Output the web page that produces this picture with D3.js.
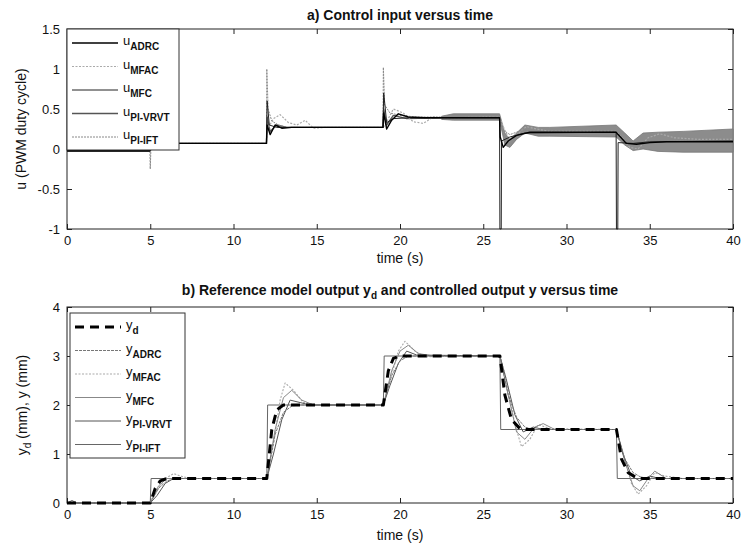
<!DOCTYPE html>
<html><head><meta charset="utf-8">
<script src="https://cdn.jsdelivr.net/npm/d3@7"></script>
<style>
body{margin:0;background:#fff}
svg{display:block;font-family:"Liberation Sans Narrow","Liberation Sans",Arial,sans-serif}
</style></head><body><div id="chart"></div>
<script>
// --- données (temps en s) ---
const timeTicks = [0, 5, 10, 15, 20, 25, 30, 35, 40]
const uTicks = [-1, -0.5, 0, 0.5, 1, 1.5]
const yTicks = [0, 1, 2, 3, 4]

// a) commandes u
const uADRC = [[0,-0.02],[4.98,-0.02],[5.02,0.07],[11.98,0.07],[12.02,0.3],[12.2,0.18],[12.5,0.3],[12.9,0.26],[13.5,0.27],[18.98,0.27],[19.02,0.45],[19.2,0.25],[19.5,0.36],[19.9,0.44],[20.5,0.4],[21.5,0.39],[25.98,0.39],[26.02,0.15],[26.2,0.02],[26.5,0.1],[27,0.17],[27.8,0.21],[32.98,0.21],[33.1,0.18],[33.6,0.07],[34.2,0.06],[35,0.08],[36,0.09],[40,0.09]]
const uMFAC = [[0,0],[4.98,0],[5.02,0.07],[11.98,0.07],[12.05,0.25],[12.4,0.38],[12.8,0.43],[13.3,0.33],[13.8,0.3],[14.3,0.36],[14.8,0.26],[15.5,0.27],[18.98,0.27],[19.1,0.3],[19.6,0.5],[20.2,0.45],[20.8,0.34],[21.4,0.32],[22,0.4],[22.5,0.39],[25.98,0.4],[26.2,0.28],[26.6,0.1],[27,0.18],[27.6,0.28],[28.2,0.25],[29,0.22],[32.98,0.22],[33.3,0.15],[33.8,0.02],[34.3,0],[34.9,0.14],[35.6,0.19],[36.5,0.14],[38,0.12],[40,0.12]]
const uMFC = [[0,-0.03],[4.98,-0.03],[5.02,0.07],[11.98,0.07],[12.02,0.6],[12.15,0.3],[12.6,0.27],[18.98,0.27],[19.02,0.7],[19.2,0.33],[19.6,0.38],[20.5,0.39],[25.98,0.39],[26,-1],[26.08,-1],[26.1,0.1],[26.6,0.15],[27.5,0.2],[32.98,0.21],[33,-1],[33.08,-1],[33.1,0.08],[34,0.07],[35,0.09],[40,0.1]]
const uPIVRVT = [[0,-0.02],[4.98,-0.02],[5.02,0.07],[11.98,0.07],[12.02,0.4],[12.2,0.22],[12.6,0.3],[13.2,0.27],[18.98,0.27],[19.02,0.5],[19.2,0.3],[19.6,0.42],[20.4,0.38],[22.5,0.39]]
const uPIVRVTband = [[22.5,0.37,0.41],[23.2,0.36,0.44],[25.98,0.36,0.44],[26.3,0.05,0.2],[26.6,0.02,0.12],[27,0.12,0.2],[27.5,0.2,0.3],[28.3,0.16,0.27],[29,0.16,0.27],[32.98,0.15,0.3],[33.5,0.05,0.2],[34,-0.02,0.1],[34.6,0,0.2],[35.5,-0.03,0.21],[37,-0.04,0.22],[40,-0.04,0.25]]
const uPIIFT = [[0,-0.01],[4.98,-0.01],[5,-0.25],[5.05,0.07],[11.98,0.07],[12,1],[12.08,0.5],[12.3,0.35],[12.7,0.3],[13.2,0.27],[18.98,0.27],[19,1.02],[19.08,0.55],[19.4,0.45],[20,0.42],[21,0.4],[25.98,0.4],[26.1,0.25],[26.6,0.18],[27.4,0.24],[28,0.22],[33,0.21],[33.3,0.1],[34,0.05],[35,0.1],[40,0.11]]

// b) sorties y
const yD = [[0,0],[5,0],[5.3,0.3],[5.6,0.45],[6,0.5],[12,0.5],[12.3,1.5],[12.6,1.9],[13,2],[19,2],[19.3,2.7],[19.6,2.95],[20,3],[26,3],[26.3,2.2],[26.7,1.7],[27.2,1.52],[27.6,1.5],[33,1.5],[33.3,0.9],[33.7,0.62],[34.2,0.52],[34.6,0.5],[40,0.5]]
const yADRC = [[0,0],[5,0],[5.5,0.3],[6,0.45],[6.5,0.5],[12,0.5],[12.5,1.4],[13,1.85],[13.5,1.98],[14,2],[19,2],[19.5,2.6],[20,2.9],[20.5,3],[26,3],[26.5,2.2],[27,1.75],[27.5,1.55],[28,1.5],[33,1.5],[33.5,0.9],[34,0.62],[34.5,0.52],[35,0.5],[40,0.5]]
const yMFAC = [[0,0],[5,0],[5.4,0.25],[5.9,0.5],[6.4,0.6],[7,0.53],[7.6,0.5],[12,0.5],[12.4,1.2],[12.8,2.1],[13.1,2.45],[13.6,2.3],[14.2,2.05],[15,2],[19,2],[19.4,2.5],[19.9,3.1],[20.3,3.3],[20.9,3.1],[21.5,2.98],[22.5,3],[26,3],[26.4,2.5],[26.9,1.6],[27.3,1.15],[27.8,1.3],[28.3,1.6],[29,1.52],[33,1.5],[33.4,1],[33.9,0.4],[34.3,0.18],[34.8,0.35],[35.3,0.62],[35.9,0.55],[37,0.5],[40,0.5]]
const yMFC = [[0,0],[5,0],[5.5,0.35],[6,0.5],[6.6,0.5],[12,0.5],[12.5,1.5],[13,2.15],[13.5,2.3],[14.1,2.1],[14.8,2],[19,2],[19.5,2.7],[20,3.1],[20.5,3.22],[21.1,3.05],[22,3],[26,3],[26.5,2.2],[27,1.45],[27.5,1.3],[28.1,1.55],[28.6,1.62],[29.3,1.5],[33,1.5],[33.5,0.85],[34,0.35],[34.4,0.25],[34.9,0.5],[35.3,0.65],[36,0.5],[40,0.5]]
const yPIVRVT = [[0,0],[0.3,0.05],[0.6,0],[5,0],[5.4,0.15],[5.9,0.4],[6.4,0.5],[12,0.5],[12.4,1],[12.9,1.7],[13.4,2.1],[14,2.05],[14.6,2],[19,2],[19.4,2.4],[19.9,2.85],[20.4,3.1],[21,3.02],[26,3],[26.4,2.5],[26.9,1.8],[27.4,1.45],[28,1.55],[28.6,1.5],[33,1.5],[33.4,1],[33.9,0.55],[34.4,0.45],[35,0.55],[35.6,0.5],[40,0.5]]
const yPIIFT = [[0,0],[5,0],[5.05,0.5],[12,0.5],[12.05,2],[19,2],[19.05,3],[26,3],[26.05,1.5],[33,1.5],[33.05,0.5],[40,0.5]]

const W = 746, H = 552
const svg = d3.select("#chart").append("svg").attr("width", W).attr("height", H)

const x = d3.scaleLinear().domain([0, 40]).range([67, 733])
const yTop = d3.scaleLinear().domain([-1, 1.5]).range([229, 29])
const yBot = d3.scaleLinear().domain([0, 4]).range([503, 307])

// cadre + graduations vers l'intérieur (style MATLAB)
function frame(y, yt, fmt) {
  const [y0, y1] = y.range()
  const g = svg.append("g").attr("font-size", 13)
  g.append("g").attr("transform", `translate(0,${y0})`)
    .call(d3.axisBottom(x).tickValues(timeTicks).tickSize(-5).tickPadding(7))
  g.append("g").attr("transform", `translate(0,${y1})`)
    .call(d3.axisTop(x).tickValues(timeTicks).tickSize(-5).tickFormat(""))
  g.append("g").attr("transform", `translate(${x(0)},0)`)
    .call(d3.axisLeft(y).tickValues(yt).tickSize(-5).tickPadding(7).tickFormat(fmt))
  g.append("g").attr("transform", `translate(${x(40)},0)`)
    .call(d3.axisRight(y).tickValues(yt).tickSize(-5).tickFormat(""))
  g.selectAll(".domain").remove()
  g.selectAll("text").attr("font-family", null).attr("font-size", 13).attr("fill", "#111")
  g.selectAll(".tick line").attr("stroke", "#222")
  svg.append("rect").attr("x", x(0)).attr("y", y1).attr("width", x(40) - x(0)).attr("height", y0 - y1)
    .attr("fill", "none").attr("stroke", "#222").attr("stroke-width", 1)
}
frame(yTop, uTicks, d => String(d))
frame(yBot, yTicks, d => String(d))

function plot(y, data, color, width, dash) {
  svg.append("path").datum(data)
    .attr("d", d3.line().x(d => x(d[0])).y(d => y(d[1])))
    .attr("fill", "none").attr("stroke", color).attr("stroke-width", width)
    .attr("stroke-dasharray", dash || null).attr("stroke-linejoin", "round")
}

// --- a) ---
svg.append("path").datum(uPIVRVTband)
  .attr("d", d3.area().x(d => x(d[0])).y0(d => yTop(d[1])).y1(d => yTop(d[2])))
  .attr("fill", "#8c8c8c").attr("stroke", "#777").attr("stroke-width", 0.8)
plot(yTop, uPIVRVT, "#555", 1.4)
plot(yTop, uMFAC, "#aaa", 1.2, "2 1.5")
plot(yTop, uPIIFT, "#888", 1, "2 1")
plot(yTop, uMFC, "#222", 1)
plot(yTop, uADRC, "#000", 1.4)

// --- b) ---
plot(yBot, yPIIFT, "#666", 1)
plot(yBot, yMFAC, "#aaa", 1.1, "2 1.5")
plot(yBot, yMFC, "#888", 1)
plot(yBot, yPIVRVT, "#555", 1)
plot(yBot, yADRC, "#777", 1, "3 1")
plot(yBot, yD, "#000", 3, "9 6")

// --- légendes ---
function legend(x0, y0, w, items, base) {
  const h = items.length * 24 + 1
  svg.append("rect").attr("x", x0).attr("y", y0).attr("width", w).attr("height", h)
    .attr("fill", "#fff").attr("stroke", "#333")
  items.forEach((it, i) => {
    const cy = y0 + 14 + i * 23.5
    svg.append("line").attr("x1", x0 + 5).attr("x2", x0 + 51).attr("y1", cy).attr("y2", cy)
      .attr("stroke", it.color).attr("stroke-width", it.width).attr("stroke-dasharray", it.dash || null)
    const t = svg.append("text").attr("x", x0 + 56).attr("y", cy + 2).attr("font-size", 13).attr("fill", "#111")
    t.append("tspan").text(base)
    t.append("tspan").attr("dy", 5).attr("font-size", 10).attr("font-weight", "bold").text(it.sub)
  })
}
legend(67, 29, 112, [
  { sub: "ADRC", color: "#000", width: 1.4 },
  { sub: "MFAC", color: "#aaa", width: 1.2, dash: "2 1.5" },
  { sub: "MFC", color: "#222", width: 1 },
  { sub: "PI-VRVT", color: "#555", width: 1.6 },
  { sub: "PI-IFT", color: "#888", width: 1, dash: "2 1" },
], "u")
legend(70, 313, 115, [
  { sub: "d", color: "#000", width: 3, dash: "9 6" },
  { sub: "ADRC", color: "#777", width: 1, dash: "3 1" },
  { sub: "MFAC", color: "#aaa", width: 1.1, dash: "2 1.5" },
  { sub: "MFC", color: "#888", width: 1 },
  { sub: "PI-VRVT", color: "#555", width: 1 },
  { sub: "PI-IFT", color: "#666", width: 1 },
], "y")

// --- titres et libellés d'axes ---
svg.append("text").attr("x", 400).attr("y", 20).attr("text-anchor", "middle")
  .attr("font-size", 14).attr("font-weight", "bold").attr("fill", "#111").text("a) Control input versus time")
const tb = svg.append("text").attr("x", 400).attr("y", 295).attr("text-anchor", "middle")
  .attr("font-size", 14).attr("font-weight", "bold").attr("fill", "#111")
tb.append("tspan").text("b) Reference model output y")
tb.append("tspan").attr("dy", 4).attr("font-size", 10).text("d")
tb.append("tspan").attr("dy", -4).text(" and controlled output y versus time")

svg.append("text").attr("x", 400).attr("y", 263).attr("text-anchor", "middle")
  .attr("font-size", 14).attr("fill", "#111").text("time (s)")
svg.append("text").attr("x", 400).attr("y", 540).attr("text-anchor", "middle")
  .attr("font-size", 14).attr("fill", "#111").text("time (s)")

svg.append("text").attr("transform", "translate(26,129) rotate(-90)").attr("text-anchor", "middle")
  .attr("font-size", 14).attr("fill", "#111").text("u (PWM duty cycle)")
const yl = svg.append("text").attr("transform", "translate(27,405) rotate(-90)").attr("text-anchor", "middle")
  .attr("font-size", 14).attr("fill", "#111")
yl.append("tspan").text("y")
yl.append("tspan").attr("dy", 4).attr("font-size", 10).text("d")
yl.append("tspan").attr("dy", -4).text(" (mm), y (mm)")
</script></body></html>
